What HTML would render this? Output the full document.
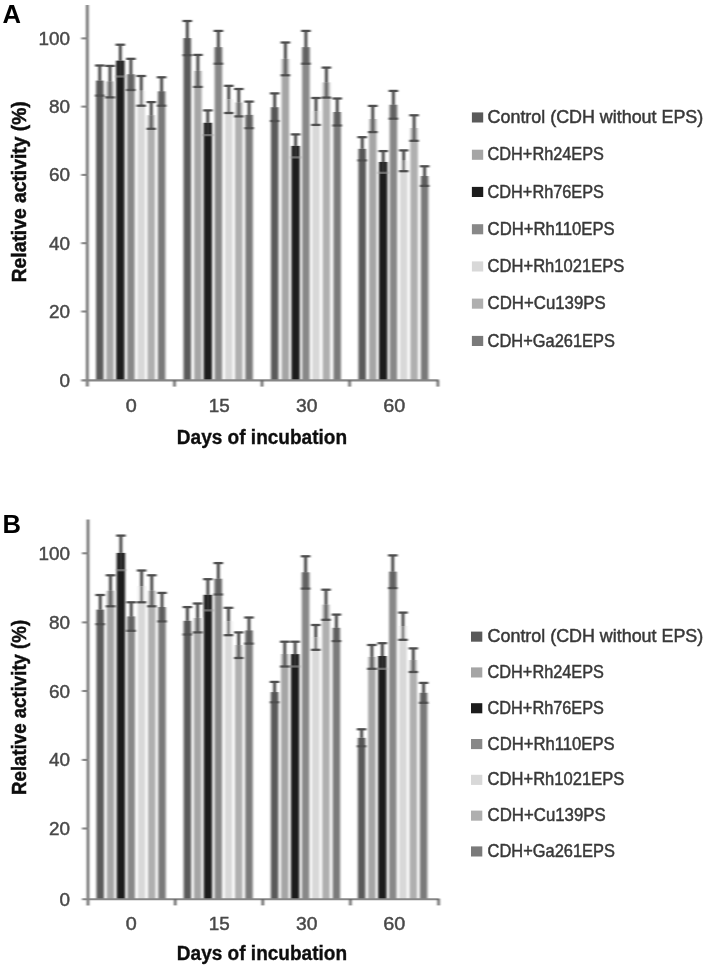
<!DOCTYPE html>
<html><head><meta charset="utf-8"><title>Figure</title>
<style>
html,body{margin:0;padding:0;background:#fff;}
body{width:708px;height:970px;overflow:hidden;font-family:"Liberation Sans",sans-serif;}
svg{display:block;}
svg text{font-family:"Liberation Sans",sans-serif;}
</style></head><body>
<svg width="708" height="970" viewBox="0 0 708 970">
<defs><filter id="bs" x="-5%" y="-5%" width="110%" height="110%"><feGaussianBlur stdDeviation="0.8 0.7"/></filter><filter id="bt" x="-5%" y="-5%" width="110%" height="110%"><feGaussianBlur stdDeviation="0.55"/></filter></defs>
<rect width="708" height="970" fill="#fff"/>
<g>
<g filter="url(#bs)">
<rect x="96.05" y="80.55" width="7.5" height="299.85" fill="#5a5a5a"/>
<rect x="106.25" y="81.65" width="7.5" height="298.75" fill="#a5a5a5"/>
<rect x="116.10" y="60.60" width="8.4" height="319.80" fill="#1c1c1c"/>
<rect x="127.15" y="74.40" width="7.5" height="306.00" fill="#888888"/>
<rect x="137.45" y="90.85" width="7.5" height="289.55" fill="#d8d8d8"/>
<rect x="147.45" y="115.45" width="7.5" height="264.95" fill="#afafaf"/>
<rect x="157.85" y="91.50" width="7.5" height="288.90" fill="#7a7a7a"/>
<rect x="183.55" y="38.10" width="7.5" height="342.30" fill="#5a5a5a"/>
<rect x="194.15" y="70.90" width="7.5" height="309.50" fill="#a5a5a5"/>
<rect x="203.60" y="122.75" width="8.4" height="257.65" fill="#1c1c1c"/>
<rect x="214.65" y="47.30" width="7.5" height="333.10" fill="#888888"/>
<rect x="225.05" y="99.40" width="7.5" height="281.00" fill="#d8d8d8"/>
<rect x="235.05" y="102.70" width="7.5" height="277.70" fill="#afafaf"/>
<rect x="245.35" y="114.90" width="7.5" height="265.50" fill="#7a7a7a"/>
<rect x="270.95" y="107.20" width="7.5" height="273.20" fill="#5a5a5a"/>
<rect x="281.65" y="58.90" width="7.5" height="321.50" fill="#a5a5a5"/>
<rect x="291.40" y="145.90" width="8.4" height="234.50" fill="#1c1c1c"/>
<rect x="302.15" y="47.30" width="7.5" height="333.10" fill="#888888"/>
<rect x="312.25" y="111.45" width="7.5" height="268.95" fill="#d8d8d8"/>
<rect x="322.65" y="82.60" width="7.5" height="297.80" fill="#afafaf"/>
<rect x="333.45" y="112.00" width="7.5" height="268.40" fill="#7a7a7a"/>
<rect x="358.45" y="148.80" width="7.5" height="231.60" fill="#5a5a5a"/>
<rect x="369.05" y="119.00" width="7.5" height="261.40" fill="#a5a5a5"/>
<rect x="379.00" y="161.95" width="8.4" height="218.45" fill="#1c1c1c"/>
<rect x="389.65" y="104.80" width="7.5" height="275.60" fill="#888888"/>
<rect x="399.95" y="160.80" width="7.5" height="219.60" fill="#d8d8d8"/>
<rect x="410.35" y="128.05" width="7.5" height="252.35" fill="#afafaf"/>
<rect x="420.85" y="176.10" width="7.5" height="204.30" fill="#7a7a7a"/>
<path d="M99.80 65.50V80.55" stroke="#2e2e2e" stroke-width="2.6" fill="none"/>
<path d="M95.05 65.50h9.5" stroke="#4e4e4e" stroke-width="2.3" fill="none"/>
<path d="M99.80 80.55V95.60" stroke="#545454" stroke-width="2.5" fill="none"/>
<path d="M95.05 95.60h9.5" stroke="#4e4e4e" stroke-width="2.3" fill="none"/>
<rect x="106.25" y="81.65" width="7.5" height="15.75" fill="#c9c9c9"/>
<rect x="107.85" y="81.65" width="4.3" height="15.75" fill="#7c7c7c"/>
<path d="M110.00 65.90V81.65" stroke="#2e2e2e" stroke-width="2.6" fill="none"/>
<path d="M105.25 65.90h9.5" stroke="#4e4e4e" stroke-width="2.3" fill="none"/>
<path d="M110.00 81.65V97.40" stroke="#5c5c5c" stroke-width="2.5" fill="none"/>
<path d="M105.25 97.40h9.5" stroke="#4e4e4e" stroke-width="2.3" fill="none"/>
<path d="M120.30 44.70V60.60" stroke="#2e2e2e" stroke-width="2.6" fill="none"/>
<path d="M115.55 44.70h9.5" stroke="#4e4e4e" stroke-width="2.3" fill="none"/>
<path d="M120.30 60.60V76.50" stroke="#444444" stroke-width="1.3" fill="none"/>
<path d="M115.55 76.50h9.5" stroke="#6c6c6c" stroke-width="2.3" fill="none"/>
<rect x="127.20" y="74.40" width="7.4" height="15.60" fill="#6e6e6e"/>
<path d="M130.90 58.80V74.40" stroke="#2e2e2e" stroke-width="2.6" fill="none"/>
<path d="M126.15 58.80h9.5" stroke="#4e4e4e" stroke-width="2.3" fill="none"/>
<path d="M130.90 74.40V90.00" stroke="#5c5c5c" stroke-width="2.5" fill="none"/>
<path d="M126.15 90.00h9.5" stroke="#4e4e4e" stroke-width="2.3" fill="none"/>
<rect x="137.45" y="90.85" width="7.5" height="14.85" fill="#f1f1f1"/>
<path d="M141.20 76.00V90.85" stroke="#2e2e2e" stroke-width="2.6" fill="none"/>
<path d="M136.45 76.00h9.5" stroke="#4e4e4e" stroke-width="2.3" fill="none"/>
<path d="M141.20 90.85V105.70" stroke="#505050" stroke-width="2.5" fill="none"/>
<path d="M136.45 105.70h9.5" stroke="#4e4e4e" stroke-width="2.3" fill="none"/>
<rect x="147.45" y="115.45" width="7.5" height="13.35" fill="#d1d1d1"/>
<rect x="149.05" y="115.45" width="4.3" height="13.35" fill="#808080"/>
<path d="M151.20 102.10V115.45" stroke="#2e2e2e" stroke-width="2.6" fill="none"/>
<path d="M146.45 102.10h9.5" stroke="#4e4e4e" stroke-width="2.3" fill="none"/>
<path d="M151.20 115.45V128.80" stroke="#606060" stroke-width="2.5" fill="none"/>
<path d="M146.45 128.80h9.5" stroke="#4e4e4e" stroke-width="2.3" fill="none"/>
<rect x="158.30" y="91.50" width="6.6" height="14.20" fill="#686868"/>
<path d="M161.60 77.30V91.50" stroke="#2e2e2e" stroke-width="2.6" fill="none"/>
<path d="M156.85 77.30h9.5" stroke="#4e4e4e" stroke-width="2.3" fill="none"/>
<path d="M161.60 91.50V105.70" stroke="#585858" stroke-width="2.5" fill="none"/>
<path d="M156.85 105.70h9.5" stroke="#4e4e4e" stroke-width="2.3" fill="none"/>
<path d="M187.30 21.00V38.10" stroke="#2e2e2e" stroke-width="2.6" fill="none"/>
<path d="M182.55 21.00h9.5" stroke="#4e4e4e" stroke-width="2.3" fill="none"/>
<path d="M187.30 38.10V55.20" stroke="#545454" stroke-width="2.5" fill="none"/>
<path d="M182.55 55.20h9.5" stroke="#4e4e4e" stroke-width="2.3" fill="none"/>
<rect x="194.15" y="70.90" width="7.5" height="16.00" fill="#c9c9c9"/>
<rect x="195.75" y="70.90" width="4.3" height="16.00" fill="#7c7c7c"/>
<path d="M197.90 54.90V70.90" stroke="#2e2e2e" stroke-width="2.6" fill="none"/>
<path d="M193.15 54.90h9.5" stroke="#4e4e4e" stroke-width="2.3" fill="none"/>
<path d="M197.90 70.90V86.90" stroke="#5c5c5c" stroke-width="2.5" fill="none"/>
<path d="M193.15 86.90h9.5" stroke="#4e4e4e" stroke-width="2.3" fill="none"/>
<path d="M207.80 110.40V122.75" stroke="#2e2e2e" stroke-width="2.6" fill="none"/>
<path d="M203.05 110.40h9.5" stroke="#4e4e4e" stroke-width="2.3" fill="none"/>
<path d="M207.80 122.75V135.10" stroke="#444444" stroke-width="1.3" fill="none"/>
<path d="M203.05 135.10h9.5" stroke="#6c6c6c" stroke-width="2.3" fill="none"/>
<rect x="214.70" y="47.30" width="7.4" height="16.40" fill="#6e6e6e"/>
<path d="M218.40 30.90V47.30" stroke="#2e2e2e" stroke-width="2.6" fill="none"/>
<path d="M213.65 30.90h9.5" stroke="#4e4e4e" stroke-width="2.3" fill="none"/>
<path d="M218.40 47.30V63.70" stroke="#5c5c5c" stroke-width="2.5" fill="none"/>
<path d="M213.65 63.70h9.5" stroke="#4e4e4e" stroke-width="2.3" fill="none"/>
<rect x="225.05" y="99.40" width="7.5" height="13.60" fill="#f1f1f1"/>
<path d="M228.80 85.80V99.40" stroke="#2e2e2e" stroke-width="2.6" fill="none"/>
<path d="M224.05 85.80h9.5" stroke="#4e4e4e" stroke-width="2.3" fill="none"/>
<path d="M228.80 99.40V113.00" stroke="#505050" stroke-width="2.5" fill="none"/>
<path d="M224.05 113.00h9.5" stroke="#4e4e4e" stroke-width="2.3" fill="none"/>
<rect x="235.05" y="102.70" width="7.5" height="13.70" fill="#d1d1d1"/>
<rect x="236.65" y="102.70" width="4.3" height="13.70" fill="#808080"/>
<path d="M238.80 89.00V102.70" stroke="#2e2e2e" stroke-width="2.6" fill="none"/>
<path d="M234.05 89.00h9.5" stroke="#4e4e4e" stroke-width="2.3" fill="none"/>
<path d="M238.80 102.70V116.40" stroke="#606060" stroke-width="2.5" fill="none"/>
<path d="M234.05 116.40h9.5" stroke="#4e4e4e" stroke-width="2.3" fill="none"/>
<rect x="245.80" y="114.90" width="6.6" height="13.30" fill="#686868"/>
<path d="M249.10 101.60V114.90" stroke="#2e2e2e" stroke-width="2.6" fill="none"/>
<path d="M244.35 101.60h9.5" stroke="#4e4e4e" stroke-width="2.3" fill="none"/>
<path d="M249.10 114.90V128.20" stroke="#585858" stroke-width="2.5" fill="none"/>
<path d="M244.35 128.20h9.5" stroke="#4e4e4e" stroke-width="2.3" fill="none"/>
<path d="M274.70 93.40V107.20" stroke="#2e2e2e" stroke-width="2.6" fill="none"/>
<path d="M269.95 93.40h9.5" stroke="#4e4e4e" stroke-width="2.3" fill="none"/>
<path d="M274.70 107.20V121.00" stroke="#545454" stroke-width="2.5" fill="none"/>
<path d="M269.95 121.00h9.5" stroke="#4e4e4e" stroke-width="2.3" fill="none"/>
<rect x="281.65" y="58.90" width="7.5" height="16.40" fill="#c9c9c9"/>
<rect x="283.25" y="58.90" width="4.3" height="16.40" fill="#7c7c7c"/>
<path d="M285.40 42.50V58.90" stroke="#2e2e2e" stroke-width="2.6" fill="none"/>
<path d="M280.65 42.50h9.5" stroke="#4e4e4e" stroke-width="2.3" fill="none"/>
<path d="M285.40 58.90V75.30" stroke="#5c5c5c" stroke-width="2.5" fill="none"/>
<path d="M280.65 75.30h9.5" stroke="#4e4e4e" stroke-width="2.3" fill="none"/>
<path d="M295.60 134.40V145.90" stroke="#2e2e2e" stroke-width="2.6" fill="none"/>
<path d="M290.85 134.40h9.5" stroke="#4e4e4e" stroke-width="2.3" fill="none"/>
<path d="M295.60 145.90V157.40" stroke="#444444" stroke-width="1.3" fill="none"/>
<path d="M290.85 157.40h9.5" stroke="#6c6c6c" stroke-width="2.3" fill="none"/>
<rect x="302.20" y="47.30" width="7.4" height="16.40" fill="#6e6e6e"/>
<path d="M305.90 30.90V47.30" stroke="#2e2e2e" stroke-width="2.6" fill="none"/>
<path d="M301.15 30.90h9.5" stroke="#4e4e4e" stroke-width="2.3" fill="none"/>
<path d="M305.90 47.30V63.70" stroke="#5c5c5c" stroke-width="2.5" fill="none"/>
<path d="M301.15 63.70h9.5" stroke="#4e4e4e" stroke-width="2.3" fill="none"/>
<rect x="312.25" y="111.45" width="7.5" height="13.45" fill="#f1f1f1"/>
<path d="M316.00 98.00V111.45" stroke="#2e2e2e" stroke-width="2.6" fill="none"/>
<path d="M311.25 98.00h9.5" stroke="#4e4e4e" stroke-width="2.3" fill="none"/>
<path d="M316.00 111.45V124.90" stroke="#505050" stroke-width="2.5" fill="none"/>
<path d="M311.25 124.90h9.5" stroke="#4e4e4e" stroke-width="2.3" fill="none"/>
<rect x="322.65" y="82.60" width="7.5" height="15.00" fill="#d1d1d1"/>
<rect x="324.25" y="82.60" width="4.3" height="15.00" fill="#808080"/>
<path d="M326.40 67.60V82.60" stroke="#2e2e2e" stroke-width="2.6" fill="none"/>
<path d="M321.65 67.60h9.5" stroke="#4e4e4e" stroke-width="2.3" fill="none"/>
<path d="M326.40 82.60V97.60" stroke="#606060" stroke-width="2.5" fill="none"/>
<path d="M321.65 97.60h9.5" stroke="#4e4e4e" stroke-width="2.3" fill="none"/>
<rect x="333.90" y="112.00" width="6.6" height="13.50" fill="#686868"/>
<path d="M337.20 98.50V112.00" stroke="#2e2e2e" stroke-width="2.6" fill="none"/>
<path d="M332.45 98.50h9.5" stroke="#4e4e4e" stroke-width="2.3" fill="none"/>
<path d="M337.20 112.00V125.50" stroke="#585858" stroke-width="2.5" fill="none"/>
<path d="M332.45 125.50h9.5" stroke="#4e4e4e" stroke-width="2.3" fill="none"/>
<path d="M362.20 137.20V148.80" stroke="#2e2e2e" stroke-width="2.6" fill="none"/>
<path d="M357.45 137.20h9.5" stroke="#4e4e4e" stroke-width="2.3" fill="none"/>
<path d="M362.20 148.80V160.40" stroke="#545454" stroke-width="2.5" fill="none"/>
<path d="M357.45 160.40h9.5" stroke="#4e4e4e" stroke-width="2.3" fill="none"/>
<rect x="369.05" y="119.00" width="7.5" height="13.10" fill="#c9c9c9"/>
<rect x="370.65" y="119.00" width="4.3" height="13.10" fill="#7c7c7c"/>
<path d="M372.80 105.90V119.00" stroke="#2e2e2e" stroke-width="2.6" fill="none"/>
<path d="M368.05 105.90h9.5" stroke="#4e4e4e" stroke-width="2.3" fill="none"/>
<path d="M372.80 119.00V132.10" stroke="#5c5c5c" stroke-width="2.5" fill="none"/>
<path d="M368.05 132.10h9.5" stroke="#4e4e4e" stroke-width="2.3" fill="none"/>
<path d="M383.20 151.10V161.95" stroke="#2e2e2e" stroke-width="2.6" fill="none"/>
<path d="M378.45 151.10h9.5" stroke="#4e4e4e" stroke-width="2.3" fill="none"/>
<path d="M383.20 161.95V172.80" stroke="#444444" stroke-width="1.3" fill="none"/>
<path d="M378.45 172.80h9.5" stroke="#6c6c6c" stroke-width="2.3" fill="none"/>
<rect x="389.70" y="104.80" width="7.4" height="13.90" fill="#6e6e6e"/>
<path d="M393.40 90.90V104.80" stroke="#2e2e2e" stroke-width="2.6" fill="none"/>
<path d="M388.65 90.90h9.5" stroke="#4e4e4e" stroke-width="2.3" fill="none"/>
<path d="M393.40 104.80V118.70" stroke="#5c5c5c" stroke-width="2.5" fill="none"/>
<path d="M388.65 118.70h9.5" stroke="#4e4e4e" stroke-width="2.3" fill="none"/>
<rect x="399.95" y="160.80" width="7.5" height="10.40" fill="#f1f1f1"/>
<path d="M403.70 150.40V160.80" stroke="#2e2e2e" stroke-width="2.6" fill="none"/>
<path d="M398.95 150.40h9.5" stroke="#4e4e4e" stroke-width="2.3" fill="none"/>
<path d="M403.70 160.80V171.20" stroke="#505050" stroke-width="2.5" fill="none"/>
<path d="M398.95 171.20h9.5" stroke="#4e4e4e" stroke-width="2.3" fill="none"/>
<rect x="410.35" y="128.05" width="7.5" height="12.75" fill="#d1d1d1"/>
<rect x="411.95" y="128.05" width="4.3" height="12.75" fill="#808080"/>
<path d="M414.10 115.30V128.05" stroke="#2e2e2e" stroke-width="2.6" fill="none"/>
<path d="M409.35 115.30h9.5" stroke="#4e4e4e" stroke-width="2.3" fill="none"/>
<path d="M414.10 128.05V140.80" stroke="#606060" stroke-width="2.5" fill="none"/>
<path d="M409.35 140.80h9.5" stroke="#4e4e4e" stroke-width="2.3" fill="none"/>
<rect x="421.30" y="176.10" width="6.6" height="9.80" fill="#686868"/>
<path d="M424.60 166.30V176.10" stroke="#2e2e2e" stroke-width="2.6" fill="none"/>
<path d="M419.85 166.30h9.5" stroke="#4e4e4e" stroke-width="2.3" fill="none"/>
<path d="M424.60 176.10V185.90" stroke="#585858" stroke-width="2.5" fill="none"/>
<path d="M419.85 185.90h9.5" stroke="#4e4e4e" stroke-width="2.3" fill="none"/>
<path d="M87.3 5V386.59999999999997" stroke="#565656" stroke-width="2.3" fill="none"/>
<path d="M81.3 380.4H438.9" stroke="#868686" stroke-width="2.1" fill="none"/>
<path d="M81.3 38.4H87.3" stroke="#868686" stroke-width="2.1"/>
<path d="M81.3 106.6H87.3" stroke="#868686" stroke-width="2.1"/>
<path d="M81.3 174.9H87.3" stroke="#868686" stroke-width="2.1"/>
<path d="M81.3 243.2H87.3" stroke="#868686" stroke-width="2.1"/>
<path d="M81.3 311.5H87.3" stroke="#868686" stroke-width="2.1"/>
<path d="M174.5 380.4v6.2" stroke="#565656" stroke-width="2.3"/>
<path d="M262 380.4v6.2" stroke="#565656" stroke-width="2.3"/>
<path d="M349.6 380.4v6.2" stroke="#565656" stroke-width="2.3"/>
<path d="M437.9 380.4v6.2" stroke="#565656" stroke-width="2.3"/>
</g>
<g filter="url(#bt)">
<text x="38.4" y="44.9" font-size="18.4" fill="#484848" stroke="#484848" stroke-width="0.45" textLength="31.5" lengthAdjust="spacingAndGlyphs">100</text>
<text x="48.9" y="113.1" font-size="18.4" fill="#484848" stroke="#484848" stroke-width="0.45" textLength="21.0" lengthAdjust="spacingAndGlyphs">80</text>
<text x="48.9" y="181.4" font-size="18.4" fill="#484848" stroke="#484848" stroke-width="0.45" textLength="21.0" lengthAdjust="spacingAndGlyphs">60</text>
<text x="48.9" y="249.7" font-size="18.4" fill="#484848" stroke="#484848" stroke-width="0.45" textLength="21.0" lengthAdjust="spacingAndGlyphs">40</text>
<text x="48.9" y="318.0" font-size="18.4" fill="#484848" stroke="#484848" stroke-width="0.45" textLength="21.0" lengthAdjust="spacingAndGlyphs">20</text>
<text x="59.4" y="386.9" font-size="18.4" fill="#484848" stroke="#484848" stroke-width="0.45" textLength="10.5" lengthAdjust="spacingAndGlyphs">0</text>
<text x="125.7" y="412.0" font-size="18.4" fill="#484848" stroke="#484848" stroke-width="0.45" textLength="11.0" lengthAdjust="spacingAndGlyphs">0</text>
<text x="208.7" y="412.0" font-size="18.4" fill="#484848" stroke="#484848" stroke-width="0.45" textLength="21.0" lengthAdjust="spacingAndGlyphs">15</text>
<text x="296.0" y="412.0" font-size="18.4" fill="#484848" stroke="#484848" stroke-width="0.45" textLength="21.4" lengthAdjust="spacingAndGlyphs">30</text>
<text x="383.2" y="412.0" font-size="18.4" fill="#484848" stroke="#484848" stroke-width="0.45" textLength="22.0" lengthAdjust="spacingAndGlyphs">60</text>
<text x="176.8" y="443.6" font-size="20" font-weight="bold" fill="#111" stroke="#111" stroke-width="0.35" textLength="170.3" lengthAdjust="spacingAndGlyphs">Days of incubation</text>
<text transform="translate(25.8 282.3) rotate(-90)" font-size="21" font-weight="bold" fill="#111" stroke="#111" stroke-width="0.5" textLength="181" lengthAdjust="spacingAndGlyphs">Relative activity (%)</text>
<text x="2.6" y="23.2" font-size="25.6" font-weight="bold" fill="#000">A</text>
<rect x="471.9" y="112.4" width="11.3" height="10.1" fill="#5a5a5a"/>
<text x="487.6" y="123.0" font-size="19" fill="#383838" stroke="#383838" stroke-width="0.5" textLength="215.6" lengthAdjust="spacingAndGlyphs">Control (CDH without EPS)</text>
<rect x="471.9" y="149.7" width="11.3" height="10.1" fill="#a5a5a5"/>
<text x="487.6" y="160.2" font-size="19" fill="#383838" stroke="#383838" stroke-width="0.5" textLength="116.3" lengthAdjust="spacingAndGlyphs">CDH+Rh24EPS</text>
<rect x="471.9" y="186.9" width="11.3" height="10.1" fill="#1c1c1c"/>
<text x="487.6" y="197.5" font-size="19" fill="#383838" stroke="#383838" stroke-width="0.5" textLength="116.3" lengthAdjust="spacingAndGlyphs">CDH+Rh76EPS</text>
<rect x="471.9" y="224.2" width="11.3" height="10.1" fill="#888888"/>
<text x="487.6" y="234.8" font-size="19" fill="#383838" stroke="#383838" stroke-width="0.5" textLength="127.1" lengthAdjust="spacingAndGlyphs">CDH+Rh110EPS</text>
<rect x="471.9" y="261.4" width="11.3" height="10.1" fill="#d8d8d8"/>
<text x="487.6" y="272.0" font-size="19" fill="#383838" stroke="#383838" stroke-width="0.5" textLength="136.7" lengthAdjust="spacingAndGlyphs">CDH+Rh1021EPS</text>
<rect x="471.9" y="298.6" width="11.3" height="10.1" fill="#afafaf"/>
<text x="487.6" y="309.2" font-size="19" fill="#383838" stroke="#383838" stroke-width="0.5" textLength="118.1" lengthAdjust="spacingAndGlyphs">CDH+Cu139PS</text>
<rect x="471.9" y="335.9" width="11.3" height="10.1" fill="#7a7a7a"/>
<text x="487.6" y="346.5" font-size="19" fill="#383838" stroke="#383838" stroke-width="0.5" textLength="127.3" lengthAdjust="spacingAndGlyphs">CDH+Ga261EPS</text>
</g>
</g>
<g>
<g filter="url(#bs)">
<rect x="96.45" y="609.60" width="7.5" height="289.60" fill="#5a5a5a"/>
<rect x="106.75" y="590.80" width="7.5" height="308.40" fill="#a5a5a5"/>
<rect x="116.70" y="552.90" width="8.4" height="346.30" fill="#1c1c1c"/>
<rect x="127.45" y="616.55" width="7.5" height="282.65" fill="#888888"/>
<rect x="137.85" y="586.40" width="7.5" height="312.80" fill="#d8d8d8"/>
<rect x="148.05" y="590.80" width="7.5" height="308.40" fill="#afafaf"/>
<rect x="158.25" y="607.15" width="7.5" height="292.05" fill="#7a7a7a"/>
<rect x="183.65" y="620.80" width="7.5" height="278.40" fill="#5a5a5a"/>
<rect x="193.85" y="617.95" width="7.5" height="281.25" fill="#a5a5a5"/>
<rect x="203.70" y="594.80" width="8.4" height="304.40" fill="#1c1c1c"/>
<rect x="214.55" y="578.80" width="7.5" height="320.40" fill="#888888"/>
<rect x="224.75" y="621.50" width="7.5" height="277.70" fill="#d8d8d8"/>
<rect x="234.95" y="645.20" width="7.5" height="254.00" fill="#afafaf"/>
<rect x="245.25" y="630.55" width="7.5" height="268.65" fill="#7a7a7a"/>
<rect x="270.85" y="692.10" width="7.5" height="207.10" fill="#5a5a5a"/>
<rect x="281.05" y="654.10" width="7.5" height="245.10" fill="#a5a5a5"/>
<rect x="290.90" y="654.10" width="8.4" height="245.10" fill="#1c1c1c"/>
<rect x="301.85" y="572.45" width="7.5" height="326.75" fill="#888888"/>
<rect x="312.05" y="637.40" width="7.5" height="261.80" fill="#d8d8d8"/>
<rect x="322.25" y="604.75" width="7.5" height="294.45" fill="#afafaf"/>
<rect x="332.65" y="627.85" width="7.5" height="271.35" fill="#7a7a7a"/>
<rect x="357.85" y="737.80" width="7.5" height="161.40" fill="#5a5a5a"/>
<rect x="368.15" y="656.90" width="7.5" height="242.30" fill="#a5a5a5"/>
<rect x="378.10" y="656.00" width="8.4" height="243.20" fill="#1c1c1c"/>
<rect x="389.05" y="571.75" width="7.5" height="327.45" fill="#888888"/>
<rect x="399.25" y="626.20" width="7.5" height="273.00" fill="#d8d8d8"/>
<rect x="409.55" y="660.20" width="7.5" height="239.00" fill="#afafaf"/>
<rect x="419.85" y="692.85" width="7.5" height="206.35" fill="#7a7a7a"/>
<path d="M100.20 595.00V609.60" stroke="#2e2e2e" stroke-width="2.6" fill="none"/>
<path d="M95.45 595.00h9.5" stroke="#4e4e4e" stroke-width="2.3" fill="none"/>
<path d="M100.20 609.60V624.20" stroke="#545454" stroke-width="2.5" fill="none"/>
<path d="M95.45 624.20h9.5" stroke="#4e4e4e" stroke-width="2.3" fill="none"/>
<rect x="106.75" y="590.80" width="7.5" height="15.50" fill="#c9c9c9"/>
<rect x="108.35" y="590.80" width="4.3" height="15.50" fill="#7c7c7c"/>
<path d="M110.50 575.30V590.80" stroke="#2e2e2e" stroke-width="2.6" fill="none"/>
<path d="M105.75 575.30h9.5" stroke="#4e4e4e" stroke-width="2.3" fill="none"/>
<path d="M110.50 590.80V606.30" stroke="#5c5c5c" stroke-width="2.5" fill="none"/>
<path d="M105.75 606.30h9.5" stroke="#4e4e4e" stroke-width="2.3" fill="none"/>
<path d="M120.90 535.60V552.90" stroke="#2e2e2e" stroke-width="2.6" fill="none"/>
<path d="M116.15 535.60h9.5" stroke="#4e4e4e" stroke-width="2.3" fill="none"/>
<path d="M120.90 552.90V570.20" stroke="#444444" stroke-width="1.3" fill="none"/>
<path d="M116.15 570.20h9.5" stroke="#6c6c6c" stroke-width="2.3" fill="none"/>
<rect x="127.50" y="616.55" width="7.4" height="14.25" fill="#6e6e6e"/>
<path d="M131.20 602.30V616.55" stroke="#2e2e2e" stroke-width="2.6" fill="none"/>
<path d="M126.45 602.30h9.5" stroke="#4e4e4e" stroke-width="2.3" fill="none"/>
<path d="M131.20 616.55V630.80" stroke="#5c5c5c" stroke-width="2.5" fill="none"/>
<path d="M126.45 630.80h9.5" stroke="#4e4e4e" stroke-width="2.3" fill="none"/>
<rect x="137.85" y="586.40" width="7.5" height="15.90" fill="#f1f1f1"/>
<path d="M141.60 570.50V586.40" stroke="#2e2e2e" stroke-width="2.6" fill="none"/>
<path d="M136.85 570.50h9.5" stroke="#4e4e4e" stroke-width="2.3" fill="none"/>
<path d="M141.60 586.40V602.30" stroke="#505050" stroke-width="2.5" fill="none"/>
<path d="M136.85 602.30h9.5" stroke="#4e4e4e" stroke-width="2.3" fill="none"/>
<rect x="148.05" y="590.80" width="7.5" height="15.50" fill="#d1d1d1"/>
<rect x="149.65" y="590.80" width="4.3" height="15.50" fill="#808080"/>
<path d="M151.80 575.30V590.80" stroke="#2e2e2e" stroke-width="2.6" fill="none"/>
<path d="M147.05 575.30h9.5" stroke="#4e4e4e" stroke-width="2.3" fill="none"/>
<path d="M151.80 590.80V606.30" stroke="#606060" stroke-width="2.5" fill="none"/>
<path d="M147.05 606.30h9.5" stroke="#4e4e4e" stroke-width="2.3" fill="none"/>
<rect x="158.70" y="607.15" width="6.6" height="14.25" fill="#686868"/>
<path d="M162.00 592.90V607.15" stroke="#2e2e2e" stroke-width="2.6" fill="none"/>
<path d="M157.25 592.90h9.5" stroke="#4e4e4e" stroke-width="2.3" fill="none"/>
<path d="M162.00 607.15V621.40" stroke="#585858" stroke-width="2.5" fill="none"/>
<path d="M157.25 621.40h9.5" stroke="#4e4e4e" stroke-width="2.3" fill="none"/>
<path d="M187.40 607.10V620.80" stroke="#2e2e2e" stroke-width="2.6" fill="none"/>
<path d="M182.65 607.10h9.5" stroke="#4e4e4e" stroke-width="2.3" fill="none"/>
<path d="M187.40 620.80V634.50" stroke="#545454" stroke-width="2.5" fill="none"/>
<path d="M182.65 634.50h9.5" stroke="#4e4e4e" stroke-width="2.3" fill="none"/>
<rect x="193.85" y="617.95" width="7.5" height="14.45" fill="#c9c9c9"/>
<rect x="195.45" y="617.95" width="4.3" height="14.45" fill="#7c7c7c"/>
<path d="M197.60 603.50V617.95" stroke="#2e2e2e" stroke-width="2.6" fill="none"/>
<path d="M192.85 603.50h9.5" stroke="#4e4e4e" stroke-width="2.3" fill="none"/>
<path d="M197.60 617.95V632.40" stroke="#5c5c5c" stroke-width="2.5" fill="none"/>
<path d="M192.85 632.40h9.5" stroke="#4e4e4e" stroke-width="2.3" fill="none"/>
<path d="M207.90 579.20V594.80" stroke="#2e2e2e" stroke-width="2.6" fill="none"/>
<path d="M203.15 579.20h9.5" stroke="#4e4e4e" stroke-width="2.3" fill="none"/>
<path d="M207.90 594.80V610.40" stroke="#444444" stroke-width="1.3" fill="none"/>
<path d="M203.15 610.40h9.5" stroke="#6c6c6c" stroke-width="2.3" fill="none"/>
<rect x="214.60" y="578.80" width="7.4" height="15.70" fill="#6e6e6e"/>
<path d="M218.30 563.10V578.80" stroke="#2e2e2e" stroke-width="2.6" fill="none"/>
<path d="M213.55 563.10h9.5" stroke="#4e4e4e" stroke-width="2.3" fill="none"/>
<path d="M218.30 578.80V594.50" stroke="#5c5c5c" stroke-width="2.5" fill="none"/>
<path d="M213.55 594.50h9.5" stroke="#4e4e4e" stroke-width="2.3" fill="none"/>
<rect x="224.75" y="621.50" width="7.5" height="13.70" fill="#f1f1f1"/>
<path d="M228.50 607.80V621.50" stroke="#2e2e2e" stroke-width="2.6" fill="none"/>
<path d="M223.75 607.80h9.5" stroke="#4e4e4e" stroke-width="2.3" fill="none"/>
<path d="M228.50 621.50V635.20" stroke="#505050" stroke-width="2.5" fill="none"/>
<path d="M223.75 635.20h9.5" stroke="#4e4e4e" stroke-width="2.3" fill="none"/>
<rect x="234.95" y="645.20" width="7.5" height="12.80" fill="#d1d1d1"/>
<rect x="236.55" y="645.20" width="4.3" height="12.80" fill="#808080"/>
<path d="M238.70 632.40V645.20" stroke="#2e2e2e" stroke-width="2.6" fill="none"/>
<path d="M233.95 632.40h9.5" stroke="#4e4e4e" stroke-width="2.3" fill="none"/>
<path d="M238.70 645.20V658.00" stroke="#606060" stroke-width="2.5" fill="none"/>
<path d="M233.95 658.00h9.5" stroke="#4e4e4e" stroke-width="2.3" fill="none"/>
<rect x="245.70" y="630.55" width="6.6" height="13.05" fill="#686868"/>
<path d="M249.00 617.50V630.55" stroke="#2e2e2e" stroke-width="2.6" fill="none"/>
<path d="M244.25 617.50h9.5" stroke="#4e4e4e" stroke-width="2.3" fill="none"/>
<path d="M249.00 630.55V643.60" stroke="#585858" stroke-width="2.5" fill="none"/>
<path d="M244.25 643.60h9.5" stroke="#4e4e4e" stroke-width="2.3" fill="none"/>
<path d="M274.60 681.90V692.10" stroke="#2e2e2e" stroke-width="2.6" fill="none"/>
<path d="M269.85 681.90h9.5" stroke="#4e4e4e" stroke-width="2.3" fill="none"/>
<path d="M274.60 692.10V702.30" stroke="#545454" stroke-width="2.5" fill="none"/>
<path d="M269.85 702.30h9.5" stroke="#4e4e4e" stroke-width="2.3" fill="none"/>
<rect x="281.05" y="654.10" width="7.5" height="12.40" fill="#c9c9c9"/>
<rect x="282.65" y="654.10" width="4.3" height="12.40" fill="#7c7c7c"/>
<path d="M284.80 641.70V654.10" stroke="#2e2e2e" stroke-width="2.6" fill="none"/>
<path d="M280.05 641.70h9.5" stroke="#4e4e4e" stroke-width="2.3" fill="none"/>
<path d="M284.80 654.10V666.50" stroke="#5c5c5c" stroke-width="2.5" fill="none"/>
<path d="M280.05 666.50h9.5" stroke="#4e4e4e" stroke-width="2.3" fill="none"/>
<path d="M295.10 641.70V654.10" stroke="#2e2e2e" stroke-width="2.6" fill="none"/>
<path d="M290.35 641.70h9.5" stroke="#4e4e4e" stroke-width="2.3" fill="none"/>
<path d="M295.10 654.10V666.50" stroke="#444444" stroke-width="1.3" fill="none"/>
<path d="M290.35 666.50h9.5" stroke="#6c6c6c" stroke-width="2.3" fill="none"/>
<rect x="301.90" y="572.45" width="7.4" height="16.15" fill="#6e6e6e"/>
<path d="M305.60 556.30V572.45" stroke="#2e2e2e" stroke-width="2.6" fill="none"/>
<path d="M300.85 556.30h9.5" stroke="#4e4e4e" stroke-width="2.3" fill="none"/>
<path d="M305.60 572.45V588.60" stroke="#5c5c5c" stroke-width="2.5" fill="none"/>
<path d="M300.85 588.60h9.5" stroke="#4e4e4e" stroke-width="2.3" fill="none"/>
<rect x="312.05" y="637.40" width="7.5" height="12.40" fill="#f1f1f1"/>
<path d="M315.80 625.00V637.40" stroke="#2e2e2e" stroke-width="2.6" fill="none"/>
<path d="M311.05 625.00h9.5" stroke="#4e4e4e" stroke-width="2.3" fill="none"/>
<path d="M315.80 637.40V649.80" stroke="#505050" stroke-width="2.5" fill="none"/>
<path d="M311.05 649.80h9.5" stroke="#4e4e4e" stroke-width="2.3" fill="none"/>
<rect x="322.25" y="604.75" width="7.5" height="15.05" fill="#d1d1d1"/>
<rect x="323.85" y="604.75" width="4.3" height="15.05" fill="#808080"/>
<path d="M326.00 589.70V604.75" stroke="#2e2e2e" stroke-width="2.6" fill="none"/>
<path d="M321.25 589.70h9.5" stroke="#4e4e4e" stroke-width="2.3" fill="none"/>
<path d="M326.00 604.75V619.80" stroke="#606060" stroke-width="2.5" fill="none"/>
<path d="M321.25 619.80h9.5" stroke="#4e4e4e" stroke-width="2.3" fill="none"/>
<rect x="333.10" y="627.85" width="6.6" height="13.25" fill="#686868"/>
<path d="M336.40 614.60V627.85" stroke="#2e2e2e" stroke-width="2.6" fill="none"/>
<path d="M331.65 614.60h9.5" stroke="#4e4e4e" stroke-width="2.3" fill="none"/>
<path d="M336.40 627.85V641.10" stroke="#585858" stroke-width="2.5" fill="none"/>
<path d="M331.65 641.10h9.5" stroke="#4e4e4e" stroke-width="2.3" fill="none"/>
<path d="M361.60 729.30V737.80" stroke="#2e2e2e" stroke-width="2.6" fill="none"/>
<path d="M356.85 729.30h9.5" stroke="#4e4e4e" stroke-width="2.3" fill="none"/>
<path d="M361.60 737.80V746.30" stroke="#545454" stroke-width="2.5" fill="none"/>
<path d="M356.85 746.30h9.5" stroke="#4e4e4e" stroke-width="2.3" fill="none"/>
<rect x="368.15" y="656.90" width="7.5" height="11.90" fill="#c9c9c9"/>
<rect x="369.75" y="656.90" width="4.3" height="11.90" fill="#7c7c7c"/>
<path d="M371.90 645.00V656.90" stroke="#2e2e2e" stroke-width="2.6" fill="none"/>
<path d="M367.15 645.00h9.5" stroke="#4e4e4e" stroke-width="2.3" fill="none"/>
<path d="M371.90 656.90V668.80" stroke="#5c5c5c" stroke-width="2.5" fill="none"/>
<path d="M367.15 668.80h9.5" stroke="#4e4e4e" stroke-width="2.3" fill="none"/>
<path d="M382.30 643.20V656.00" stroke="#2e2e2e" stroke-width="2.6" fill="none"/>
<path d="M377.55 643.20h9.5" stroke="#4e4e4e" stroke-width="2.3" fill="none"/>
<path d="M382.30 656.00V668.80" stroke="#444444" stroke-width="1.3" fill="none"/>
<path d="M377.55 668.80h9.5" stroke="#6c6c6c" stroke-width="2.3" fill="none"/>
<rect x="389.10" y="571.75" width="7.4" height="16.35" fill="#6e6e6e"/>
<path d="M392.80 555.40V571.75" stroke="#2e2e2e" stroke-width="2.6" fill="none"/>
<path d="M388.05 555.40h9.5" stroke="#4e4e4e" stroke-width="2.3" fill="none"/>
<path d="M392.80 571.75V588.10" stroke="#5c5c5c" stroke-width="2.5" fill="none"/>
<path d="M388.05 588.10h9.5" stroke="#4e4e4e" stroke-width="2.3" fill="none"/>
<rect x="399.25" y="626.20" width="7.5" height="13.60" fill="#f1f1f1"/>
<path d="M403.00 612.60V626.20" stroke="#2e2e2e" stroke-width="2.6" fill="none"/>
<path d="M398.25 612.60h9.5" stroke="#4e4e4e" stroke-width="2.3" fill="none"/>
<path d="M403.00 626.20V639.80" stroke="#505050" stroke-width="2.5" fill="none"/>
<path d="M398.25 639.80h9.5" stroke="#4e4e4e" stroke-width="2.3" fill="none"/>
<rect x="409.55" y="660.20" width="7.5" height="11.80" fill="#d1d1d1"/>
<rect x="411.15" y="660.20" width="4.3" height="11.80" fill="#808080"/>
<path d="M413.30 648.40V660.20" stroke="#2e2e2e" stroke-width="2.6" fill="none"/>
<path d="M408.55 648.40h9.5" stroke="#4e4e4e" stroke-width="2.3" fill="none"/>
<path d="M413.30 660.20V672.00" stroke="#606060" stroke-width="2.5" fill="none"/>
<path d="M408.55 672.00h9.5" stroke="#4e4e4e" stroke-width="2.3" fill="none"/>
<rect x="420.30" y="692.85" width="6.6" height="9.95" fill="#686868"/>
<path d="M423.60 682.90V692.85" stroke="#2e2e2e" stroke-width="2.6" fill="none"/>
<path d="M418.85 682.90h9.5" stroke="#4e4e4e" stroke-width="2.3" fill="none"/>
<path d="M423.60 692.85V702.80" stroke="#585858" stroke-width="2.5" fill="none"/>
<path d="M418.85 702.80h9.5" stroke="#4e4e4e" stroke-width="2.3" fill="none"/>
<path d="M88.0 519.5V905.4000000000001" stroke="#565656" stroke-width="2.3" fill="none"/>
<path d="M82.0 899.2H439.6" stroke="#868686" stroke-width="2.1" fill="none"/>
<path d="M82.0 553.3H88.0" stroke="#868686" stroke-width="2.1"/>
<path d="M82.0 622.4H88.0" stroke="#868686" stroke-width="2.1"/>
<path d="M82.0 691.0H88.0" stroke="#868686" stroke-width="2.1"/>
<path d="M82.0 759.9H88.0" stroke="#868686" stroke-width="2.1"/>
<path d="M82.0 828.5H88.0" stroke="#868686" stroke-width="2.1"/>
<path d="M175.2 899.2v6.2" stroke="#565656" stroke-width="2.3"/>
<path d="M262.8 899.2v6.2" stroke="#565656" stroke-width="2.3"/>
<path d="M350.4 899.2v6.2" stroke="#565656" stroke-width="2.3"/>
<path d="M438.6 899.2v6.2" stroke="#565656" stroke-width="2.3"/>
</g>
<g filter="url(#bt)">
<text x="38.4" y="559.8" font-size="18.4" fill="#484848" stroke="#484848" stroke-width="0.45" textLength="31.5" lengthAdjust="spacingAndGlyphs">100</text>
<text x="48.9" y="628.9" font-size="18.4" fill="#484848" stroke="#484848" stroke-width="0.45" textLength="21.0" lengthAdjust="spacingAndGlyphs">80</text>
<text x="48.9" y="697.5" font-size="18.4" fill="#484848" stroke="#484848" stroke-width="0.45" textLength="21.0" lengthAdjust="spacingAndGlyphs">60</text>
<text x="48.9" y="766.4" font-size="18.4" fill="#484848" stroke="#484848" stroke-width="0.45" textLength="21.0" lengthAdjust="spacingAndGlyphs">40</text>
<text x="48.9" y="835.0" font-size="18.4" fill="#484848" stroke="#484848" stroke-width="0.45" textLength="21.0" lengthAdjust="spacingAndGlyphs">20</text>
<text x="59.4" y="905.7" font-size="18.4" fill="#484848" stroke="#484848" stroke-width="0.45" textLength="10.5" lengthAdjust="spacingAndGlyphs">0</text>
<text x="125.7" y="929.5" font-size="18.4" fill="#484848" stroke="#484848" stroke-width="0.45" textLength="11.0" lengthAdjust="spacingAndGlyphs">0</text>
<text x="208.7" y="929.5" font-size="18.4" fill="#484848" stroke="#484848" stroke-width="0.45" textLength="21.0" lengthAdjust="spacingAndGlyphs">15</text>
<text x="296.0" y="929.5" font-size="18.4" fill="#484848" stroke="#484848" stroke-width="0.45" textLength="21.4" lengthAdjust="spacingAndGlyphs">30</text>
<text x="383.2" y="929.5" font-size="18.4" fill="#484848" stroke="#484848" stroke-width="0.45" textLength="22.0" lengthAdjust="spacingAndGlyphs">60</text>
<text x="176.8" y="960.3" font-size="20" font-weight="bold" fill="#111" stroke="#111" stroke-width="0.35" textLength="170.3" lengthAdjust="spacingAndGlyphs">Days of incubation</text>
<text transform="translate(25.8 794.9) rotate(-90)" font-size="21" font-weight="bold" fill="#111" stroke="#111" stroke-width="0.5" textLength="175" lengthAdjust="spacingAndGlyphs">Relative activity (%)</text>
<text x="2.6" y="533.4" font-size="25.6" font-weight="bold" fill="#000">B</text>
<rect x="471.0" y="631.6" width="11.3" height="10.1" fill="#5a5a5a"/>
<text x="487.6" y="642.2" font-size="19" fill="#383838" stroke="#383838" stroke-width="0.5" textLength="215.6" lengthAdjust="spacingAndGlyphs">Control (CDH without EPS)</text>
<rect x="471.0" y="667.4" width="11.3" height="10.1" fill="#a5a5a5"/>
<text x="487.6" y="678.0" font-size="19" fill="#383838" stroke="#383838" stroke-width="0.5" textLength="116.3" lengthAdjust="spacingAndGlyphs">CDH+Rh24EPS</text>
<rect x="471.0" y="703.2" width="11.3" height="10.1" fill="#1c1c1c"/>
<text x="487.6" y="713.8" font-size="19" fill="#383838" stroke="#383838" stroke-width="0.5" textLength="116.3" lengthAdjust="spacingAndGlyphs">CDH+Rh76EPS</text>
<rect x="471.0" y="739.0" width="11.3" height="10.1" fill="#888888"/>
<text x="487.6" y="749.6" font-size="19" fill="#383838" stroke="#383838" stroke-width="0.5" textLength="127.1" lengthAdjust="spacingAndGlyphs">CDH+Rh110EPS</text>
<rect x="471.0" y="774.8" width="11.3" height="10.1" fill="#d8d8d8"/>
<text x="487.6" y="785.4" font-size="19" fill="#383838" stroke="#383838" stroke-width="0.5" textLength="136.7" lengthAdjust="spacingAndGlyphs">CDH+Rh1021EPS</text>
<rect x="471.0" y="810.6" width="11.3" height="10.1" fill="#afafaf"/>
<text x="487.6" y="821.2" font-size="19" fill="#383838" stroke="#383838" stroke-width="0.5" textLength="118.1" lengthAdjust="spacingAndGlyphs">CDH+Cu139PS</text>
<rect x="471.0" y="846.4" width="11.3" height="10.1" fill="#7a7a7a"/>
<text x="487.6" y="857.0" font-size="19" fill="#383838" stroke="#383838" stroke-width="0.5" textLength="127.3" lengthAdjust="spacingAndGlyphs">CDH+Ga261EPS</text>
</g>
</g>
</svg>
</body></html>
